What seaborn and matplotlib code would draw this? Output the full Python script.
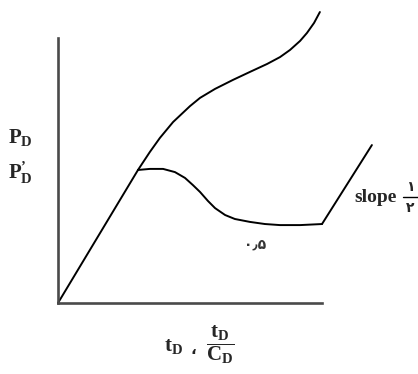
import matplotlib
matplotlib.use('Agg')
import matplotlib.pyplot as plt
import seaborn as sns
from matplotlib.lines import Line2D

# Schematic values (arbitrary units, axes span 0-10)
early_x = [0.0, 3.03]
early_y = [0.0, 5.02]

pd_x = [3.03, 3.48, 3.86, 4.36, 5.00, 5.38, 5.95, 6.63, 7.27, 7.92, 8.41, 8.79, 9.17, 9.43, 9.70, 9.92]
pd_y = [5.02, 5.70, 6.23, 6.83, 7.43, 7.74, 8.08, 8.42, 8.72, 9.02, 9.28, 9.55, 9.89, 10.19, 10.57, 10.98]

deriv_x = [3.03, 3.48, 3.98, 4.43, 4.81, 5.11, 5.38, 5.68, 5.95, 6.33, 6.70, 7.27, 7.84, 8.41, 9.17, 10.00]
deriv_y = [5.02, 5.06, 5.06, 4.94, 4.72, 4.45, 4.19, 3.85, 3.58, 3.32, 3.17, 3.06, 2.98, 2.94, 2.94, 2.98]

late_x = [10.00, 11.89]
late_y = [2.98, 5.96]

sns.set_style("white")
plt.rcParams['font.family'] = ['DejaVu Sans', 'Noto Sans']
plt.rcParams['mathtext.fontset'] = 'custom'
plt.rcParams['mathtext.rm'] = 'Liberation Serif:bold'
plt.rcParams['mathtext.bf'] = 'Liberation Serif:bold'
plt.rcParams['mathtext.it'] = 'Liberation Serif:bold'

W, H = 418, 374
fig = plt.figure(figsize=(W / 100, H / 100), dpi=100)
ax = fig.add_axes([58 / W, 71 / H, 264 / W, 265 / H])


def px(x, y):
    return x / W, 1 - y / H


for xs, ys in [(early_x, early_y), (pd_x, pd_y), (deriv_x, deriv_y), (late_x, late_y)]:
    sns.lineplot(x=xs, y=ys, ax=ax, color='black', linewidth=1.4,
                 sort=False, estimator=None, clip_on=False)

ax.set_xlim(0, 10)
ax.set_ylim(0, 10)
ax.set_xticks([])
ax.set_yticks([])
for side in ['top', 'right']:
    ax.spines[side].set_visible(False)
for side in ['left', 'bottom']:
    ax.spines[side].set_color('#4a4a4a')
    ax.spines[side].set_linewidth(1.9)

# y labels
fig.text(*px(8, 137), r'$\mathbf{P}_{\mathbf{D}}$', fontsize=15, ha='left', va='center')
fig.text(*px(8, 173), '$\\mathbf{P}^{\\mathbf{\u2019}}_{\\mathbf{D}}$', fontsize=15,
         ha='left', va='center')

# x label
fig.text(*px(164, 346), r'$\mathbf{t}_{\mathbf{D}}$', fontsize=15, ha='left', va='center')
fig.text(*px(193, 349), '\u060c', fontsize=11, fontweight='bold', ha='center', va='center',
         color='#222222')
fig.text(*px(220, 345), r'$\dfrac{\mathbf{t}_{\mathbf{D}}}{\mathbf{C}_{\mathbf{D}}}$',
         fontsize=15, ha='center', va='center')

# plateau value
fig.text(*px(255, 245), '\u06f0\u066b\u06f5', fontsize=10, fontweight='bold',
         ha='center', va='center', color='#333333')

# slope annotation
fig.text(*px(354, 198), 'slope', family='Liberation Serif', fontweight='bold',
         fontsize=14, ha='left', va='center')
fig.text(*px(410, 187), '\u06f1', fontsize=10, fontweight='bold', ha='center', va='center')
fig.text(*px(410, 208), '\u06f2', fontsize=10, fontweight='bold', ha='center', va='center')
fig.add_artist(Line2D([403 / W, 418 / W], [1 - 197 / H, 1 - 197 / H],
                      color='black', linewidth=1.0, transform=fig.transFigure))

fig.savefig('out.png', dpi=100)
